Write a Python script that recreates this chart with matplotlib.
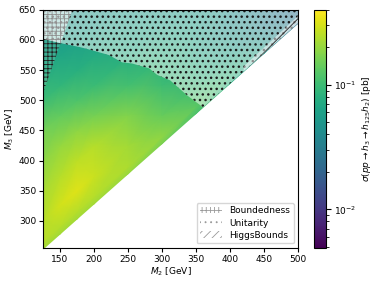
import numpy as np
import matplotlib
matplotlib.use("Agg")
import matplotlib.pyplot as plt
from matplotlib.colors import LogNorm
from matplotlib.patches import Patch

# grid: M2 nodes and mass gap dM = M3 - M2 above the h3 -> h125 h2 threshold
m2_nodes = [125, 150, 175, 200, 250, 300, 350, 400, 450, 500]
dm_nodes = [128, 140, 175, 225, 275, 325, 375, 425, 475, 525]

# sigma(pp -> h3 -> h125 h2) [pb], rows follow dm_nodes, columns m2_nodes
sigma = [
    [0.216, 0.216, 0.216, 0.216, 0.202, 0.166, 0.117, 0.0785, 0.0483, 0.0239],
    [0.247, 0.247, 0.247, 0.247, 0.231, 0.189, 0.133, 0.0895, 0.0528, 0.0261],
    [0.247, 0.294, 0.321, 0.281, 0.216, 0.145, 0.0935, 0.0616, 0.0371, 0.0209],
    [0.226, 0.247, 0.258, 0.247, 0.173, 0.102, 0.0688, 0.0463, 0.0325, 0.0239],
    [0.189, 0.198, 0.189, 0.159, 0.107, 0.0785, 0.059, 0.0443, 0.0355, 0.0285],
    [0.159, 0.139, 0.117, 0.0977, 0.075, 0.0603, 0.0483, 0.0388, 0.0311, 0.0261],
    [0.102, 0.0895, 0.0785, 0.0718, 0.0577, 0.0483, 0.0405, 0.034, 0.0285, 0.0249],
    [0.0718, 0.0658, 0.0603, 0.0552, 0.0483, 0.0424, 0.0371, 0.0311, 0.0273, 0.0239],
    [0.0577, 0.0528, 0.0483, 0.0443, 0.0405, 0.0371, 0.0325, 0.0285, 0.0249, 0.0229],
    [0.0463, 0.0424, 0.0405, 0.0388, 0.0355, 0.0325, 0.0298, 0.0261, 0.0239, 0.0219],
]

# excluded regions (boundaries)
uni_m2 = [125, 150, 180, 197, 222, 241, 256, 281, 293, 312, 337, 356, 360, 500]
uni_m3 = [602, 595, 588, 583, 575, 563, 561, 553, 542, 533, 508, 492, 488, 628]
bnd_m3 = [512, 592, 650]
bnd_m2 = [125, 150, 168]
hb_m2 = [420, 500]
hb_lo = [548, 628]
hb_hi = [556, 640]

fig = plt.figure(figsize=(3.74, 2.82), dpi=100)
ax = fig.add_axes([0.115, 0.121, 0.682, 0.844])
cax = fig.add_axes([0.840, 0.121, 0.032, 0.844])

M2, DM = np.meshgrid(m2_nodes, dm_nodes)
M3 = M2 + DM
norm = LogNorm(vmin=0.0049, vmax=0.40)
mesh = ax.pcolormesh(M2, M3, np.array(sigma), shading='gouraud',
                     cmap='viridis', norm=norm, rasterized=True)

top = 660
with plt.rc_context({'hatch.linewidth': 1.0}):
    uni = ax.fill_between(uni_m2, uni_m3, top, facecolor=(1, 1, 1, 0.5),
                          edgecolor='#1a1a1a', hatch='...', linewidth=0)
with plt.rc_context({'hatch.linewidth': 0.6}):
    ax.fill_betweenx(bnd_m3, 120, bnd_m2, facecolor=(1, 1, 1, 0.12),
                     edgecolor='#222222', hatch='++++', linewidth=0)
    # boundedness on top of unitarity is washed out further
    both = ax.fill_betweenx(bnd_m3, 120, bnd_m2, facecolor=(1, 1, 1, 0.5),
                            linewidth=0)
    both.set_clip_path(uni.get_paths()[0], uni.get_transform())
    ax.fill_between(hb_m2, hb_lo, hb_hi, facecolor=(1, 1, 1, 0.5),
                    edgecolor='#222222', hatch='////', linewidth=0)

ax.set_xlim(125, 500)
ax.set_ylim(255, 650)
ax.set_xticks([150, 200, 250, 300, 350, 400, 450, 500])
ax.set_yticks([300, 350, 400, 450, 500, 550, 600, 650])
ax.tick_params(labelsize=6.5, length=3, pad=2)
ax.set_xlabel(r'$M_2$ [GeV]', fontsize=6.5, labelpad=1)
ax.set_ylabel(r'$M_3$ [GeV]', fontsize=6.5, labelpad=2)

with plt.rc_context({'hatch.linewidth': 0.6}):
    handles = [Patch(facecolor='white', edgecolor='#999999', hatch='++++', linewidth=0, label='Boundedness'),
               Patch(facecolor='white', edgecolor='#999999', hatch='...', linewidth=0, label='Unitarity'),
               Patch(facecolor='white', edgecolor='#999999', hatch='////', linewidth=0, label='HiggsBounds')]
    ax.legend(handles=handles, loc='lower right', fontsize=6.5, handlelength=2.4,
              handletextpad=0.8, borderpad=0.4, labelspacing=0.35)

cb = fig.colorbar(mesh, cax=cax)
cb.ax.tick_params(labelsize=6.5, pad=2)
cb.set_label(r'$\sigma(pp\to h_3\to h_{125}h_2)$ [pb]', fontsize=6.5, labelpad=3)

fig.savefig('out.png', dpi=100)
